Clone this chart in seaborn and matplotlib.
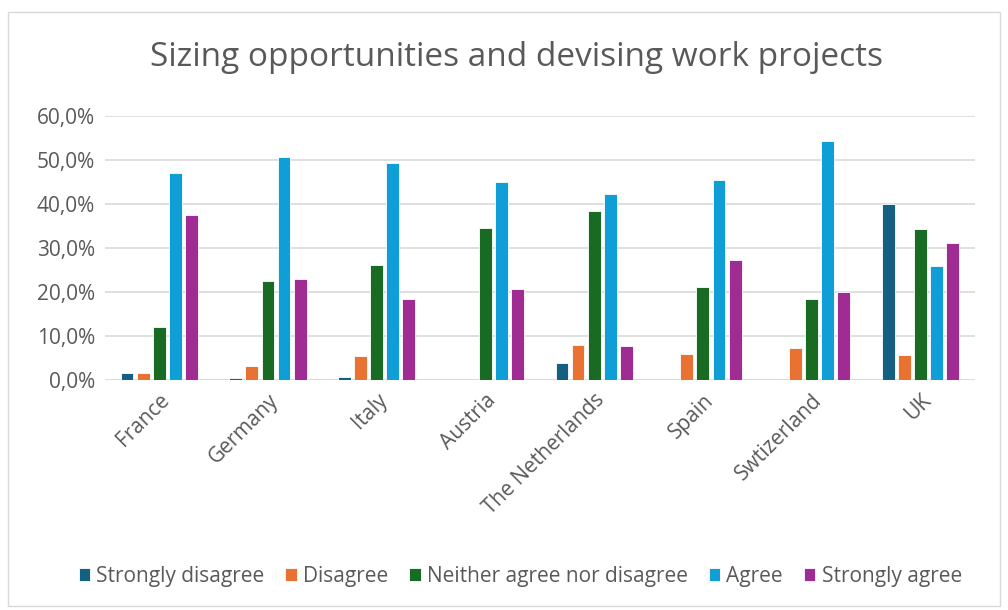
import numpy as np
import pandas as pd
import matplotlib
matplotlib.use("Agg")
import matplotlib.pyplot as plt
from matplotlib.patches import Rectangle
from matplotlib.ticker import FuncFormatter
import seaborn as sns

countries = ["France", "Germany", "Italy", "Austria", "The Netherlands",
             "Spain", "Swtizerland", "UK"]
responses = ["Strongly disagree", "Disagree", "Neither agree nor disagree",
             "Agree", "Strongly agree"]

strongly_disagree = [1.7, 0.5, 0.8, 0.0, 3.8, 0.0, 0.0, 40.0]
disagree = [1.7, 3.2, 5.4, 0.0, 7.9, 6.0, 7.2, 5.6]
neither = [12.1, 22.4, 26.1, 34.6, 38.5, 21.2, 18.4, 34.3]
agree = [47.1, 50.6, 49.2, 45.0, 42.2, 45.5, 54.4, 25.8]
strongly_agree = [37.6, 23.0, 18.5, 20.6, 7.8, 27.3, 20.0, 31.2]

colors = ["#156082", "#E97132", "#196B24", "#0F9ED5", "#A02B93"]

series = [strongly_disagree, disagree, neither, agree, strongly_agree]
df = pd.DataFrame({
    "Country": countries * len(responses),
    "Response": np.repeat(responses, len(countries)),
    "Share": np.concatenate(series) / 100,
})

sns.set_style("white")
plt.rcParams["font.family"] = ["Open Sans", "DejaVu Sans"]

fig = plt.figure(figsize=(10.08, 6.10), dpi=100)
ax = fig.add_axes([0.104, 0.377, 0.863, 0.433])

sns.barplot(data=df, x="Country", y="Share", hue="Response",
            hue_order=responses, palette=colors, saturation=1,
            width=0.74, gap=0.2, edgecolor="white", linewidth=0.6,
            ax=ax, legend=True)

ax.set_ylim(0, 0.6)
ax.set_yticks(np.arange(0, 0.61, 0.1))
ax.yaxis.set_major_formatter(FuncFormatter(lambda v, p: f"{v*100:.1f}%".replace(".", ",")))
ax.yaxis.grid(True, color="#d9d9d9", linewidth=1.2)
ax.set_axisbelow(True)
sns.despine(ax=ax, left=True, bottom=True, top=True, right=True)
ax.axhline(0, color="#d9d9d9", linewidth=1.2, zorder=0)
ax.set_xlabel("")
ax.set_ylabel("")
ax.tick_params(axis="both", length=0, labelsize=15, labelcolor="#595959", pad=7)
plt.setp(ax.get_xticklabels(), rotation=45, ha="right", rotation_mode="anchor")
ax.set_xlim(-0.5, len(countries) - 0.5)

fig.text(0.512, 0.905, "Sizing opportunities and devising work projects",
         ha="center", va="center", fontsize=24, color="#595959")

handles, labels = ax.get_legend_handles_labels()
ax.legend_.remove()
fig.legend(handles, labels, loc="center", bbox_to_anchor=(0.516, 0.055),
           ncol=5, frameon=False, fontsize=15, labelcolor="#595959",
           handlelength=0.55, handleheight=0.55, handletextpad=0.3,
           columnspacing=1.0)

fig.patches.append(Rectangle((0.008, 0.006), 0.984, 0.975, transform=fig.transFigure,
                             fill=False, edgecolor="#d9d9d9", linewidth=1))

fig.savefig("out.png", dpi=100)
